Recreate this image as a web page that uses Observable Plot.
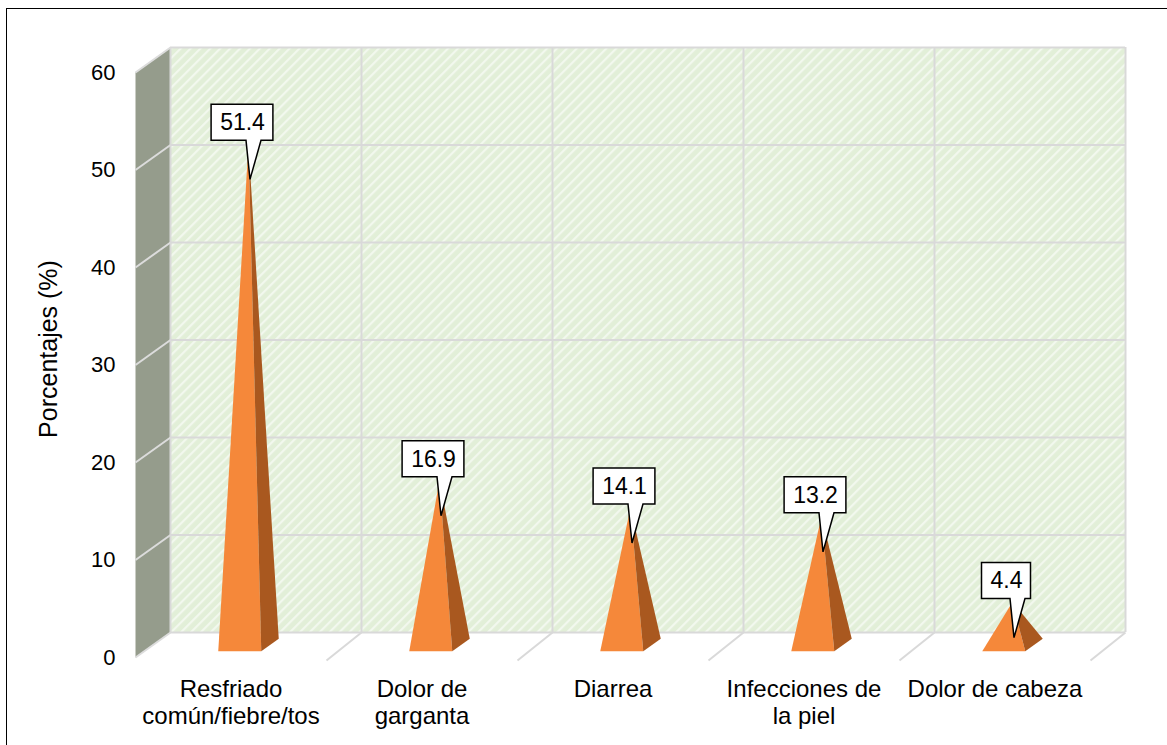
<!DOCTYPE html>
<html><head><meta charset="utf-8">
<script src="https://cdn.jsdelivr.net/npm/d3@7"></script>
<script src="https://cdn.jsdelivr.net/npm/@observablehq/plot@0.6"></script>
<style>
body{margin:0;background:#fff;font-family:"Liberation Sans",Arial,sans-serif;}
#wrap{position:relative;width:1167px;height:745px;overflow:hidden;}
#frame{position:absolute;left:6px;top:8px;width:1300px;height:900px;border:1px solid #000;box-sizing:border-box;}
#chart{position:absolute;left:0;top:0;}
</style></head><body>
<div id="wrap"><div id="frame"></div><div id="chart"></div></div>
<script>
// ---- data ----
const categories = ["Resfriado\ncomún/fiebre/tos", "Dolor de\ngarganta", "Diarrea", "Infecciones de\nla piel", "Dolor de cabeza"];
const values = [51.4, 16.9, 14.1, 13.2, 4.4];
const valueLabels = ["51.4", "16.9", "14.1", "13.2", "4.4"];
const yTicks = [0, 10, 20, 30, 40, 50, 60];
const yLabel = "Porcentajes (%)";

// ---- 3D geometry (in scale units) ----
const DX = 35 / 191;      // depth shift along x (category units)
const DY = 25 / 9.75;     // depth shift along y (value units)
const HW = 21.5 / 191;    // pyramid half width
const D0 = 0.25, D1 = 0.75, DM = 0.5;

const frontFaces = [], sideFaces = [];
values.forEach((v, i) => {
  const xc = i + 0.5;
  const FL = {x: xc - HW + D0 * DX, y: D0 * DY};
  const FR = {x: xc + HW + D0 * DX, y: D0 * DY};
  const BR = {x: xc + HW + D1 * DX, y: D1 * DY};
  const A  = {x: xc + DM * DX, y: v + DM * DY};
  [FL, A, FR].forEach(p => frontFaces.push({id: i, ...p}));
  [FR, A, BR].forEach(p => sideFaces.push({id: i, ...p}));
});
const apex = values.map((v, i) => ({x: i + 0.5 + DM * DX, y: v + DM * DY, label: valueLabels[i]}));
const sideWall = [{x: 0, y: 0}, {x: 0, y: 60}, {x: DX, y: 60 + DY}, {x: DX, y: DY}];
const boundaries = [0, 1, 2, 3, 4, 5];

function callouts(index, scales) {
  const g = d3.create("svg:g");
  apex.forEach(a => {
    const tx = scales.x(a.x) + 2, ty = scales.y(a.y) + 36;
    const digits = a.label.replace(".", "").length, dots = a.label.length - digits;
    const w = digits * 12.8 + dots * 6.4 + 17;
    const cx = tx - 8, l = cx - w / 2, r = cx + w / 2, b = ty - 39, t = ty - 75;
    g.append("path")
      .attr("d", `M${l},${t}H${r}V${b}H${tx + 11}L${tx},${ty}L${tx - 4},${b}H${l}Z`)
      .attr("fill", "#fff").attr("stroke", "#000").attr("stroke-width", 1.5)
      .attr("stroke-linejoin", "miter");
  });
  return g.node();
}

const chart = Plot.plot({
  width: 1167, height: 745,
  marginLeft: 135, marginRight: 77, marginTop: 72, marginBottom: 88,
  style: {fontFamily: "'Liberation Sans', Arial, sans-serif", background: "transparent", color: "#000"},
  x: {type: "linear", domain: [0, 5]},
  y: {type: "linear", domain: [0, 60]},
  marks: [
    Plot.rect([0], {x1: DX, x2: 5 + DX, y1: DY, y2: 60 + DY, fill: "url(#hatch)", inset: 0}),
    Plot.line(sideWall, {x: "x", y: "y", fill: "#959c8c", stroke: "none", curve: "linear-closed"}),
    Plot.ruleY(yTicks, {y: d => d + DY, x1: DX, x2: 5 + DX, stroke: "#d9d9d9", strokeWidth: 2}),
    Plot.ruleX(boundaries, {x: d => d + DX, y1: DY, y2: 60 + DY, stroke: "#d9d9d9", strokeWidth: 2}),
    Plot.link(yTicks, {x1: 0, y1: d => d, x2: DX, y2: d => d + DY, stroke: "#dcdcdc", strokeWidth: 2}),
    Plot.link(boundaries.slice(1), {x1: d => d, y1: -0.3, x2: d => d + DX, y2: DY, stroke: "#d9d9d9", strokeWidth: 2}),
    Plot.line(frontFaces, {x: "x", y: "y", z: "id", fill: "#f5883a", stroke: "none", curve: "linear-closed"}),
    Plot.line(sideFaces, {x: "x", y: "y", z: "id", fill: "#a9581f", stroke: "none", curve: "linear-closed"}),
    callouts,
    Plot.text(apex, {x: "x", y: "y", text: "label", dx: -6, dy: -21, fontSize: 23, fill: "#000"}),
    Plot.axisY({ticks: yTicks, tickSize: 0, tickPadding: 20, fontSize: 22, label: null}),
    Plot.axisX({ticks: categories.map((_, i) => i + 0.5), tickFormat: (d, i) => categories[i], tickSize: 0, tickPadding: 20, fontSize: 24, lineHeight: 1.13, label: null}),
    Plot.text([yLabel], {frameAnchor: "left", textAnchor: "middle", text: d => d, rotate: -90, dx: -87, dy: -16, fontSize: 25, fill: "#000"})
  ]
});

d3.select(chart).insert("defs", ":first-child").html(
  `<pattern id="hatch" patternUnits="userSpaceOnUse" width="7" height="7" patternTransform="rotate(45)">
     <rect width="7" height="7" fill="#e2efd8"/>
     <rect x="0" y="0" width="2.2" height="7" fill="#f2f8ee"/>
   </pattern>`);
document.getElementById("chart").appendChild(chart);
</script>
</body></html>
